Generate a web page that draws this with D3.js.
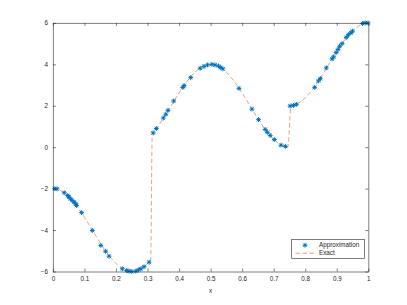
<!DOCTYPE html>
<html>
<head>
<meta charset="utf-8">
<script src="https://cdn.jsdelivr.net/npm/d3@7"></script>
<style>
  body { margin: 0; background: #fff; }
  text { font-family: "Liberation Sans", Arial, sans-serif; fill: #262626; }
</style>
</head>
<body>
<svg id="chart" width="407" height="305"></svg>
<script>
// approximation samples (stars)
let approx_x = [0.006, 0.013, 0.036, 0.047, 0.051, 0.056, 0.061, 0.067, 0.072, 0.075,
  0.091, 0.125, 0.152, 0.167, 0.178, 0.220, 0.234, 0.241, 0.250, 0.263, 0.271, 0.279,
  0.289, 0.305,
  0.318, 0.328, 0.350, 0.358, 0.365, 0.383, 0.412, 0.416, 0.437, 0.467, 0.479, 0.490,
  0.504, 0.514, 0.525, 0.532, 0.539, 0.590, 0.631, 0.652, 0.673, 0.680, 0.689, 0.702,
  0.723, 0.737,
  0.752, 0.763, 0.772, 0.830, 0.842, 0.848, 0.867, 0.885, 0.890, 0.898, 0.904, 0.909,
  0.917, 0.930, 0.937, 0.945, 0.950, 0.982, 0.990, 0.999];
let approx_y = [-2.00, -2.01, -2.20, -2.33, -2.41, -2.49, -2.57, -2.65, -2.73, -2.81,
  -3.16, -4.02, -4.74, -5.02, -5.26, -5.87, -5.95, -5.98, -6.00, -5.98, -5.92, -5.87,
  -5.77, -5.55,
  0.69, 0.90, 1.41, 1.59, 1.78, 2.23, 2.88, 2.98, 3.36, 3.81, 3.90, 3.97,
  4.00, 3.97, 3.92, 3.85, 3.78, 2.84, 1.84, 1.33, 0.86, 0.72, 0.57, 0.37,
  0.10, 0.04,
  1.99, 2.02, 2.07, 2.89, 3.20, 3.31, 3.83, 4.26, 4.36, 4.57, 4.72, 4.87,
  5.00, 5.30, 5.43, 5.52, 5.60, 5.97, 6.00, 6.00];

// exact solution (dashed line)
let exact_x = [0, 0.025, 0.05, 0.075, 0.1, 0.125, 0.15, 0.175, 0.2, 0.225, 0.25, 0.275,
  0.3, 0.31, 0.315, 0.325, 0.35, 0.375, 0.4, 0.425, 0.45, 0.475, 0.5, 0.525, 0.55,
  0.575, 0.6, 0.625, 0.65, 0.675, 0.7, 0.725, 0.745, 0.755, 0.775, 0.8, 0.825, 0.85,
  0.875, 0.9, 0.925, 0.95, 0.975, 1];
let exact_y = [-2, -2.098, -2.382, -2.824, -3.382, -4, -4.618, -5.176, -5.618, -5.902,
  -6, -5.902, -5.618, -5.458, 0.631, 0.824, 1.382, 2, 2.618, 3.176, 3.618, 3.902, 4,
  3.902, 3.618, 3.176, 2.618, 2, 1.382, 0.824, 0.382, 0.098, 0.004, 2.004, 2.098,
  2.382, 2.824, 3.382, 4, 4.618, 5.176, 5.618, 5.902, 6];

let x_ticks = [0, 0.1, 0.2, 0.3, 0.4, 0.5, 0.6, 0.7, 0.8, 0.9, 1];
let x_labels = ["0", "0.1", "0.2", "0.3", "0.4", "0.5", "0.6", "0.7", "0.8", "0.9", "1"];
let y_ticks = [-6, -4, -2, 0, 2, 4, 6];
let legend_labels = ["Approximation", "Exact"];

let blue = "#0072bd", orange = "#e07a50", axis_color = "#262626";
let m_left = 52.9, m_right = 368.3, m_top = 22.9, m_bottom = 271.5;

let svg = d3.select("#chart");
let x = d3.scaleLinear().domain([0, 1]).range([m_left, m_right]);
let y = d3.scaleLinear().domain([-6, 6]).range([m_bottom, m_top]);

// exact line
let exact = exact_x.map((d, i) => [d, exact_y[i]]);
svg.append("path")
  .datum(exact)
  .attr("d", d3.line().x(d => x(d[0])).y(d => y(d[1])).curve(d3.curveMonotoneX))
  .attr("fill", "none")
  .attr("stroke", orange)
  .attr("stroke-width", 0.7)
  .attr("stroke-dasharray", "4.5,2.5");

// star markers
function star(g, cx, cy, r) {
  let d = 0.72 * r;
  let p = "M" + (cx - r) + "," + cy + "H" + (cx + r)
    + "M" + cx + "," + (cy - r) + "V" + (cy + r)
    + "M" + (cx - d) + "," + (cy - d) + "L" + (cx + d) + "," + (cy + d)
    + "M" + (cx - d) + "," + (cy + d) + "L" + (cx + d) + "," + (cy - d);
  g.append("path").attr("d", p).attr("stroke", blue).attr("stroke-width", 1).attr("fill", "none");
}
let marks = svg.append("g");
approx_x.forEach((d, i) => star(marks, x(d), y(approx_y[i]), 2.4));

// axes box with inward ticks
let xAxisB = d3.axisBottom(x).tickValues(x_ticks).tickFormat((d, i) => x_labels[i])
  .tickSizeInner(-3).tickSizeOuter(0).tickPadding(5);
let xAxisT = d3.axisTop(x).tickValues(x_ticks).tickFormat("").tickSizeInner(-3).tickSizeOuter(0);
let yAxisL = d3.axisLeft(y).tickValues(y_ticks).tickSizeInner(-3).tickSizeOuter(0).tickPadding(5);
let yAxisR = d3.axisRight(y).tickValues(y_ticks).tickFormat("").tickSizeInner(-3).tickSizeOuter(0);

function styleAxis(g) {
  g.selectAll("path, line").attr("stroke", axis_color).attr("stroke-width", 0.6);
  g.selectAll("text").attr("font-size", 6.3).attr("fill", axis_color)
    .style("font-family", "'Liberation Sans', Arial, sans-serif");
}
svg.append("g").attr("transform", "translate(0," + m_bottom + ")").call(xAxisB).call(styleAxis);
svg.append("g").attr("transform", "translate(0," + m_top + ")").call(xAxisT).call(styleAxis);
svg.append("g").attr("transform", "translate(" + m_left + ",0)").call(yAxisL).call(styleAxis);
svg.append("g").attr("transform", "translate(" + m_right + ",0)").call(yAxisR).call(styleAxis);

svg.append("text")
  .attr("x", (m_left + m_right) / 2).attr("y", 292.5)
  .attr("text-anchor", "middle").attr("font-size", 6.3)
  .text("x");

// legend
let lg = svg.append("g");
lg.append("rect").attr("x", 291.7).attr("y", 239.3).attr("width", 72.6).attr("height", 19)
  .attr("fill", "#fff").attr("stroke", axis_color).attr("stroke-width", 0.6);
star(lg, 305, 245.2, 2.4);
lg.append("line").attr("x1", 295.5).attr("x2", 314.5).attr("y1", 253.2).attr("y2", 253.2)
  .attr("stroke", orange).attr("stroke-width", 0.7).attr("stroke-dasharray", "4.5,2.5");
lg.selectAll("text.leg").data(legend_labels).enter().append("text")
  .attr("class", "leg")
  .attr("x", 319).attr("y", (d, i) => 247.4 + i * 8)
  .attr("font-size", 6.3)
  .text(d => d);
</script>
</body>
</html>
